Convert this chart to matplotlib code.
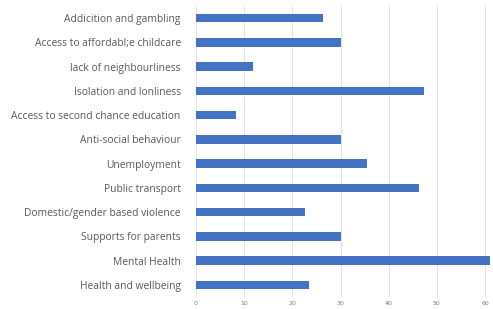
import matplotlib.pyplot as plt

# categories top to bottom as in the picture
categories = [
    "Addicition and gambling",
    "Access to affordabl;e childcare",
    "lack of neighbourliness",
    "Isolation and lonliness",
    "Access to second chance education",
    "Anti-social behaviour",
    "Unemployment",
    "Public transport",
    "Domestic/gender based violence",
    "Supports for parents",
    "Mental Health",
    "Health and wellbeing",
]
values = [26.3, 30, 11.8, 47.3, 8.2, 30, 35.4, 46.3, 22.7, 30, 61, 23.5]
xticks = [0, 10, 20, 30, 40, 50, 60]

fig = plt.figure(figsize=(4.93, 3.09), dpi=100)
ax = fig.add_axes([0.3976, 0.0385, 0.6010, 0.9425])

pos = list(range(len(categories)))[::-1]
ax.barh(pos, values, height=0.35, color="#4472C4", zorder=3)

ax.set_xlim(0, 61.5)
ax.set_ylim(-0.5, len(categories) - 0.5)
ax.set_yticks(pos)
ax.set_yticklabels(categories, fontsize=7.4, color="#595959", family="Open Sans")
ax.set_xticks(xticks)
ax.set_xticklabels([str(t) for t in xticks], fontsize=4.5, color="#7f7f7f")
ax.tick_params(axis="both", length=0)
ax.tick_params(axis="y", pad=11)
ax.tick_params(axis="x", pad=3)
ax.grid(axis="x", color="#e3e3e3", linewidth=0.7, zorder=0)
for s in ax.spines.values():
    s.set_visible(False)

fig.savefig("out.png", dpi=100)
